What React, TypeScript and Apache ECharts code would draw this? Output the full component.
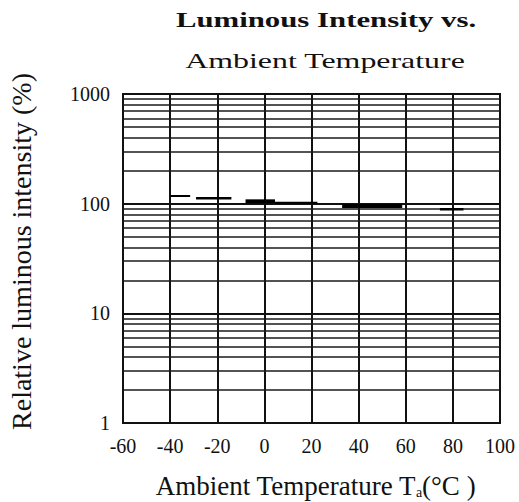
import React, { useEffect, useRef } from "react";
import * as echarts from "echarts";

const xMin = -60;
const xMax = 100;
const xStep = 20;
const yMin = 1;
const yMax = 1000;
const minorGridValues = [2, 3, 4, 5, 6, 7, 8, 9, 20, 30, 40, 50, 60, 70, 80, 90, 200, 300, 400, 500, 600, 700, 800, 900];

// curve drawn as short horizontal pieces
const segTempStart = [-40, -29, -8, 4.5, 33, 74.5];
const segTempEnd = [-31.5, -14, 4.5, 22.5, 58.5, 84.5];
const segIntensity = [117.5, 112, 105, 102, 95, 89];

const segLineWidths = [2, 2.5, 4, 2, 4, 2.5];

const titleLines = ["Luminous Intensity vs.", "Ambient Temperature"];
const yName = "Relative luminous intensity (%)";
const xName = "Ambient Temperature T{sub|a}(°C )";

const serif = "'Liberation Serif', 'DejaVu Serif', serif";

export default function App() {
  const ref = useRef<HTMLDivElement>(null);
  useEffect(() => {
    const chart = echarts.init(ref.current!, null, { renderer: "svg" });
    const series: any[] = segTempStart.map((s, i) => ({
      type: "line",
      data: [
        [s, segIntensity[i]],
        [segTempEnd[i], segIntensity[i]],
      ],
      symbol: "none",
      silent: true,
      z: 5,
      lineStyle: { color: "#000", width: segLineWidths[i], cap: "butt" },
    }));
    series[0].markLine = {
      silent: true,
      symbol: "none",
      label: { show: false },
      z: 1,
      lineStyle: { color: "#1a1a1a", width: 1.6, type: "solid" },
      data: minorGridValues.map((v) => ({ yAxis: v })),
    };
    chart.setOption({
      animation: false,
      backgroundColor: "#fff",
      graphic: [
        {
          type: "text",
          x: 326,
          y: 20,
          scaleX: 1.4,
          style: {
            text: titleLines[0],
            x: 0,
            y: 0,
            align: "center",
            verticalAlign: "middle",
            font: "bold 22px 'Liberation Serif'",
            fill: "#111",
          },
        },
        {
          type: "text",
          x: 325,
          y: 61,
          scaleX: 1.45,
          style: {
            text: titleLines[1],
            x: 0,
            y: 0,
            align: "center",
            verticalAlign: "middle",
            font: "22px 'Liberation Serif'",
            fill: "#111",
          },
        },
      ],
      grid: {
        left: 123,
        right: 19,
        top: 94,
        bottom: 79,
        show: true,
        borderColor: "#111",
        borderWidth: 2,
        outerBoundsMode: "none",
        containLabel: false,
      },
      xAxis: {
        type: "value",
        min: xMin,
        max: xMax,
        interval: xStep,
        axisLine: { show: true, lineStyle: { color: "#111", width: 2 } },
        axisTick: { show: false },
        axisLabel: {
          color: "#111",
          fontFamily: serif,
          fontSize: 20,
          margin: 13,
        },
        splitLine: { show: true, lineStyle: { color: "#111", width: 2 } },
        name: xName,
        nameLocation: "middle",
        nameGap: 49,
        nameTextStyle: {
          color: "#111",
          fontFamily: serif,
          fontSize: 27,
          padding: [0, 0, 0, 8],
          rich: {
            sub: {
              fontFamily: serif,
              fontSize: 14,
              verticalAlign: "bottom",
              padding: [6, 0, 0, 0],
              color: "#111",
            },
          },
        },
      },
      yAxis: {
        type: "log",
        logBase: 10,
        min: yMin,
        max: yMax,
        axisLine: { show: true, lineStyle: { color: "#111", width: 2 } },
        axisTick: { show: false },
        axisLabel: {
          color: "#111",
          fontFamily: serif,
          fontSize: 20,
          margin: 13,
          formatter: (v: number) => String(v),
        },
        splitLine: { show: true, lineStyle: { color: "#111", width: 2 } },
        name: yName,
        nameLocation: "middle",
        nameRotate: 90,
        nameGap: 88,
        nameTextStyle: {
          color: "#111",
          fontFamily: serif,
          fontSize: 28,
          padding: [0, 0, 0, 14],
        },
      },
      series,
    });
    return () => chart.dispose();
  }, []);
  return (
    <div
      ref={ref}
      style={{ position: "fixed", left: 0, top: 0, width: 519, height: 502, background: "#fff" }}
    />
  );
}
